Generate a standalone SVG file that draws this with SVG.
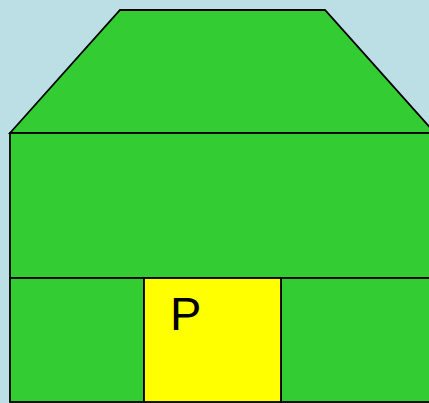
<svg xmlns="http://www.w3.org/2000/svg" width="429" height="403" viewBox="0 0 429 403">
<style>
.g{fill:#33CC33;stroke:#000;stroke-width:1.8}
.y{fill:#FFFF00;stroke:#000;stroke-width:1.8}
text{font-family:"Liberation Sans",Arial,sans-serif;fill:#000}
</style>
<rect width="429" height="403" fill="#BBDFE4"/>
<g id="roof"><polygon class="g" points="10,133 120,10 325,10 435,133"/></g>
<g id="body"><rect class="g" x="10" y="133" width="430" height="145"/></g>
<g id="left"><rect class="g" x="10" y="278" width="134" height="124"/></g>
<g id="right"><rect class="g" x="281" y="278" width="160" height="124"/></g>
<g id="door"><rect class="y" x="144" y="278" width="137" height="124"/>
<text x="170" y="330" font-size="47">P</text></g>
</svg>
